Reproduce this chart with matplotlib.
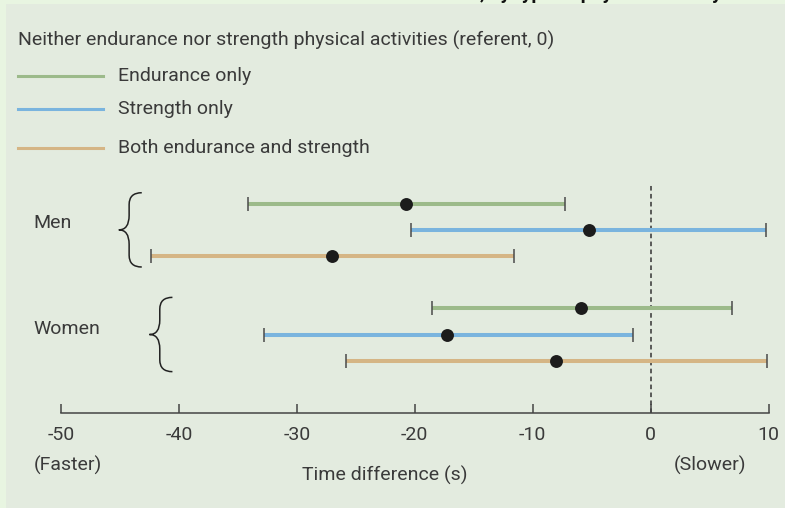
import numpy as np
import matplotlib
matplotlib.use('Agg')
import matplotlib.pyplot as plt
from matplotlib.path import Path
from matplotlib.patches import PathPatch, Rectangle
from matplotlib.lines import Line2D

# --- DATA (seconds, relative to referent = 0) ---
groups = ['Men', 'Women']
categories = ['Endurance only', 'Strength only', 'Both endurance and strength']
colors = ['#9cba8a', '#7ab4de', '#d5b585']

men_est = [-20.7, -5.2, -27.0]
men_lo = [-34.1, -20.3, -42.4]
men_hi = [-7.3, 9.8, -11.6]

women_est = [-5.9, -17.3, -8.0]
women_lo = [-18.5, -32.8, -25.8]
women_hi = [6.9, -1.5, 9.9]

xticks = [-50, -40, -30, -20, -10, 0, 10]
# ------------------------------------------------

W, H = 785, 508
plt.rcParams['font.family'] = ['Roboto', 'DejaVu Sans']
plt.rcParams['axes.unicode_minus'] = False
TXT = '#3a3a3a'
FS = 14


def fx(px):
    return px / W


def fy(py):
    return 1 - py / H


fig = plt.figure(figsize=(W / 100, H / 100), dpi=100, facecolor='#e8f5e1')
fig.add_artist(Rectangle((fx(6), 0), 1 - fx(6), fy(4), transform=fig.transFigure,
                         facecolor='#e3ebdf', edgecolor='none', zorder=0))

# cut-off title at the very top (only descenders show)
fig.text(fx(722), 1 + 1.3 / H, 'Difference in 5 km run time, by type of physical activity',
         ha='right', va='baseline', fontsize=14, fontweight='bold', color='#111111')

ax = fig.add_axes([fx(61), fy(413), fx(768.5) - fx(61), (413 - 185) / H])
ax.set_facecolor('none')
ax.set_xlim(-50, 10)
ax.set_ylim(8, -0.715)

rows = {'Men': [0, 1, 2], 'Women': [4, 5, 6]}
data = {'Men': (men_est, men_lo, men_hi), 'Women': (women_est, women_lo, women_hi)}

ax.axvline(0, color='#333333', lw=1.1, ls=(0, (3, 2.2)), zorder=1)

for g in groups:
    est, lo, hi = data[g]
    for i, y in enumerate(rows[g]):
        ax.hlines(y, lo[i], hi[i], color=colors[i], lw=2.9, zorder=2)
        ax.plot([lo[i], hi[i]], [y, y], ls='none', marker='|', ms=10, mew=1.1,
                color='#4a4a4a', zorder=3)
        ax.plot(est[i], y, 'o', ms=9.3, color='#1c1c1c', mec='none', zorder=4)

# braces
brace_tip = {'Men': -45.1, 'Women': -42.5}
bw, bh = 1.95, 1.42
r_top, r_mid = 0.45, 0.55
for g in groups:
    xt = brace_tip[g]
    yc = np.mean(rows[g])
    xv = xt + 0.45 * bw
    verts = [(xt + bw, yc - bh), (xv, yc - bh), (xv, yc - bh + r_top),
             (xv, yc - r_mid), (xv, yc), (xt, yc),
             (xv, yc), (xv, yc + r_mid),
             (xv, yc + bh - r_top), (xv, yc + bh), (xt + bw, yc + bh)]
    codes = [Path.MOVETO, Path.CURVE3, Path.CURVE3,
             Path.LINETO, Path.CURVE3, Path.CURVE3,
             Path.CURVE3, Path.CURVE3,
             Path.LINETO, Path.CURVE3, Path.CURVE3]
    ax.add_patch(PathPatch(Path(verts, codes), facecolor='none', edgecolor='#222222',
                           lw=1.1, clip_on=False))

for s in ['top', 'left', 'right']:
    ax.spines[s].set_visible(False)
ax.spines['bottom'].set_color('#444444')
ax.spines['bottom'].set_linewidth(1.1)
ax.set_yticks([])
ax.set_xticks(xticks)
ax.set_xticklabels([str(t) for t in xticks])
ax.tick_params(axis='x', direction='in', length=6.5, width=1.1, color='#444444',
               pad=9.5, labelsize=FS, labelcolor=TXT)

# group labels
fig.text(fx(33), fy(223), 'Men', ha='left', va='center', fontsize=FS, color=TXT)
fig.text(fx(33), fy(329), 'Women', ha='left', va='center', fontsize=FS, color=TXT)

# axis annotations
fig.text(fx(68), fy(465), '(Faster)', ha='center', va='center', fontsize=FS, color=TXT)
fig.text(fx(710), fy(465), '(Slower)', ha='center', va='center', fontsize=FS, color=TXT)
fig.text(fx(385), fy(475), 'Time difference (s)', ha='center', va='center', fontsize=FS, color=TXT)

# legend
fig.text(fx(18), fy(40), 'Neither endurance nor strength physical activities (referent, 0)',
         ha='left', va='center', fontsize=FS, color=TXT)
leg_y = [75.7, 109, 148]
for i, cat in enumerate(categories):
    fig.add_artist(Line2D([fx(18), fx(103)], [fy(leg_y[i]), fy(leg_y[i])],
                          transform=fig.transFigure, color=colors[i], lw=2.2))
    fig.text(fx(118), fy(leg_y[i]), cat, ha='left', va='center', fontsize=FS, color=TXT)

fig.savefig('out.png', dpi=100, facecolor=fig.get_facecolor())
